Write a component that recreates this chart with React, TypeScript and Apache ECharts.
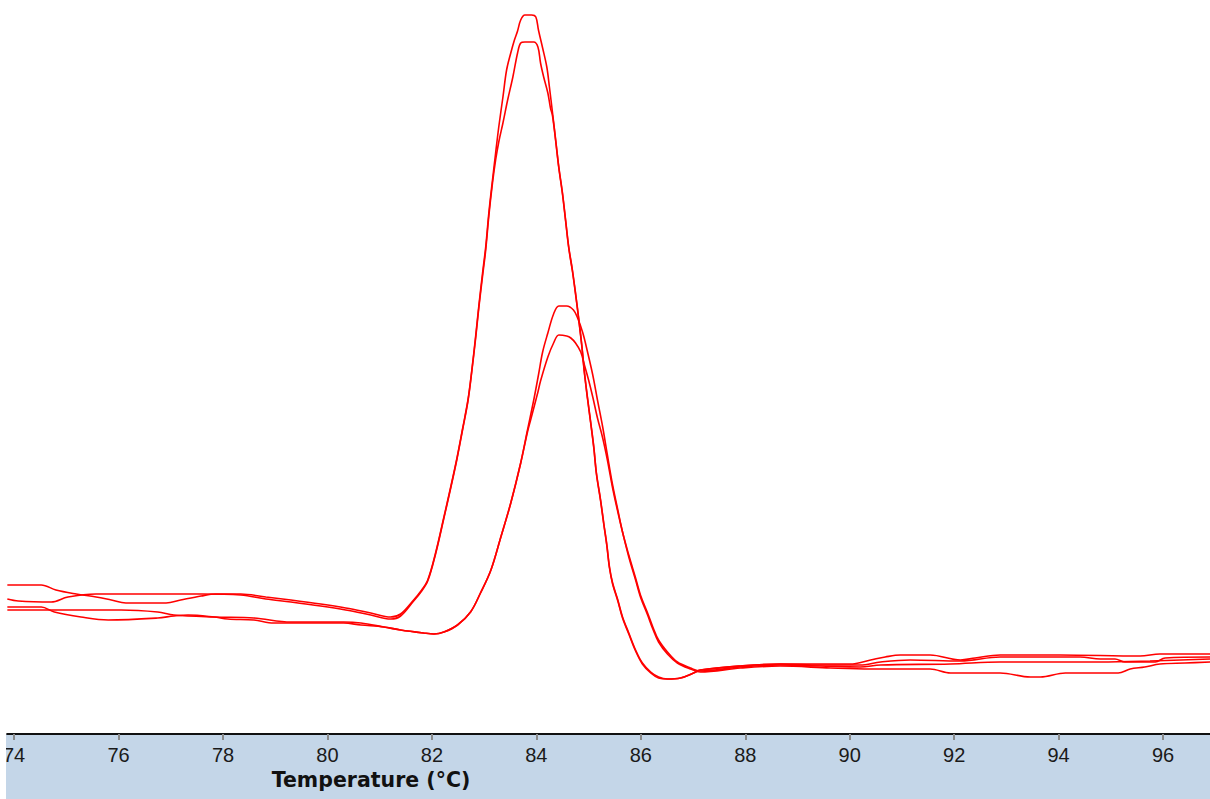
import React, { useEffect, useRef } from "react";
import * as echarts from "echarts";

// Melt-curve derivative data: [temperature °C, -dF/dT (arbitrary units)]
const sampleA: number[][] = [[73.87,1.49],[74.52,1.49],[74.80,1.44],[75.19,1.40],[75.57,1.37],[75.86,1.34],[76.14,1.31],[76.91,1.31],[77.19,1.34],[77.58,1.38],[77.86,1.40],[78.34,1.40],[78.82,1.37],[79.30,1.34],[79.87,1.30],[80.35,1.26],[80.83,1.21],[81.21,1.17],[81.40,1.20],[81.65,1.34],[81.79,1.43],[81.92,1.54],[82.07,1.81],[82.23,2.17],[82.36,2.47],[82.48,2.76],[82.59,3.06],[82.69,3.34],[82.76,3.62],[82.84,3.99],[82.90,4.29],[82.97,4.61],[83.03,4.87],[83.09,5.21],[83.16,5.54],[83.22,5.81],[83.28,6.07],[83.36,6.37],[83.43,6.64],[83.51,6.81],[83.58,6.94],[83.64,7.03],[83.70,7.14],[83.78,7.19],[83.91,7.19],[83.99,7.17],[84.04,7.04],[84.12,6.86],[84.20,6.67],[84.25,6.47],[84.31,6.21],[84.37,5.94],[84.43,5.67],[84.50,5.41],[84.56,5.14],[84.62,4.87],[84.69,4.64],[84.75,4.41],[84.81,4.16],[84.87,3.89],[84.92,3.62],[84.98,3.36],[85.04,3.12],[85.10,2.87],[85.15,2.61],[85.23,2.34],[85.29,2.11],[85.35,1.89],[85.40,1.67],[85.46,1.51],[85.56,1.34],[85.65,1.17],[85.77,1.01],[85.90,0.84],[86.03,0.71],[86.19,0.62],[86.34,0.57],[86.51,0.55],[86.76,0.56],[87.01,0.61],[87.14,0.64],[87.91,0.68],[88.67,0.70],[89.44,0.70],[90.01,0.70],[90.40,0.74],[90.68,0.77],[90.97,0.79],[91.54,0.79],[92.12,0.74],[92.40,0.76],[92.88,0.79],[94.03,0.79],[95.56,0.78],[95.94,0.80],[96.90,0.80]];

const sampleB: number[][] = [[73.87,1.35],[74.08,1.33],[74.71,1.32],[75.03,1.37],[75.57,1.40],[76.62,1.40],[77.58,1.40],[78.34,1.39],[78.82,1.35],[79.30,1.32],[79.87,1.28],[80.35,1.24],[80.83,1.19],[81.21,1.15],[81.40,1.18],[81.65,1.33],[81.79,1.42],[81.92,1.53],[82.07,1.80],[82.23,2.16],[82.36,2.46],[82.48,2.75],[82.59,3.05],[82.69,3.33],[82.76,3.61],[82.84,3.97],[82.90,4.27],[82.97,4.58],[83.03,4.84],[83.09,5.18],[83.16,5.51],[83.22,5.74],[83.28,5.92],[83.36,6.11],[83.45,6.34],[83.55,6.57],[83.64,6.81],[83.70,6.91],[83.78,6.92],[83.95,6.92],[84.03,6.87],[84.08,6.71],[84.14,6.57],[84.22,6.41],[84.27,6.26],[84.31,6.18],[84.37,5.93],[84.43,5.66],[84.50,5.40],[84.56,5.13],[84.62,4.86],[84.69,4.63],[84.75,4.40],[84.81,4.15],[84.87,3.88],[84.92,3.61],[84.98,3.35],[85.04,3.11],[85.10,2.86],[85.15,2.60],[85.23,2.33],[85.29,2.10],[85.35,1.88],[85.40,1.66],[85.46,1.50],[85.56,1.33],[85.65,1.16],[85.77,1.00],[85.90,0.83],[86.03,0.70],[86.19,0.61],[86.34,0.56],[86.51,0.55],[86.76,0.56],[87.01,0.61],[87.14,0.64],[87.91,0.68],[88.67,0.70],[89.44,0.69],[90.20,0.69],[90.59,0.72],[91.16,0.74],[92.12,0.73],[92.88,0.77],[94.41,0.77],[94.80,0.75],[95.08,0.75],[95.27,0.72],[95.85,0.72],[96.04,0.76],[96.90,0.77]];

const sampleC: number[][] = [[73.87,1.27],[74.52,1.27],[74.77,1.22],[75.28,1.17],[75.80,1.14],[76.75,1.16],[77.06,1.18],[77.33,1.19],[77.83,1.17],[78.09,1.15],[78.59,1.14],[78.97,1.11],[80.31,1.11],[80.64,1.09],[81.08,1.07],[81.40,1.04],[81.84,1.01],[82.04,1.00],[82.23,1.02],[82.49,1.09],[82.74,1.22],[82.93,1.41],[83.13,1.64],[83.32,1.97],[83.51,2.31],[83.70,2.71],[83.83,3.04],[83.95,3.34],[84.04,3.59],[84.12,3.82],[84.22,4.01],[84.33,4.20],[84.43,4.28],[84.58,4.28],[84.71,4.24],[84.79,4.16],[84.89,4.01],[84.98,3.82],[85.08,3.59],[85.17,3.34],[85.27,3.07],[85.36,2.79],[85.46,2.49],[85.56,2.24],[85.65,2.02],[85.77,1.79],[85.90,1.56],[86.00,1.38],[86.13,1.21],[86.23,1.07],[86.34,0.94],[86.51,0.82],[86.70,0.72],[86.95,0.66],[87.14,0.63],[87.91,0.67],[88.67,0.69],[89.44,0.68],[90.20,0.67],[90.59,0.69],[91.93,0.70],[92.88,0.72],[94.80,0.72],[95.75,0.73],[96.90,0.75]];

const sampleD: number[][] = [[73.87,1.24],[76.05,1.24],[76.75,1.22],[77.06,1.19],[77.83,1.17],[78.59,1.16],[79.30,1.12],[80.31,1.12],[80.64,1.11],[81.08,1.07],[81.40,1.04],[81.84,1.01],[82.04,1.00],[82.23,1.02],[82.49,1.09],[82.74,1.22],[82.93,1.41],[83.13,1.64],[83.32,1.97],[83.51,2.31],[83.70,2.71],[83.83,3.02],[83.89,3.14],[84.03,3.42],[84.08,3.53],[84.22,3.77],[84.33,3.91],[84.43,3.99],[84.58,3.98],[84.66,3.96],[84.75,3.91],[84.85,3.82],[84.92,3.69],[85.00,3.54],[85.08,3.37],[85.17,3.16],[85.27,2.96],[85.36,2.74],[85.46,2.46],[85.56,2.22],[85.65,2.02],[85.77,1.77],[85.90,1.54],[86.00,1.36],[86.13,1.19],[86.23,1.05],[86.34,0.92],[86.51,0.80],[86.70,0.71],[86.95,0.65],[87.14,0.62],[87.91,0.66],[88.67,0.68],[89.63,0.66],[90.40,0.65],[91.54,0.65],[91.93,0.61],[92.88,0.61],[93.46,0.57],[93.65,0.57],[94.13,0.61],[95.14,0.61],[95.37,0.65],[95.65,0.67],[95.94,0.70],[96.42,0.71],[96.90,0.72]];

const tempTicks: number[] = [74, 76, 78, 80, 82, 84, 86, 88, 90, 92, 94, 96];
const xTitle = "Temperature (°C)";
const seriesList = [sampleA, sampleB, sampleC, sampleD];

export default function App() {
  const ref = useRef<HTMLDivElement>(null);
  useEffect(() => {
    if (!ref.current) return;
    const chart = echarts.init(ref.current, undefined, { renderer: "svg" });
    chart.setOption({
      animation: false,
      backgroundColor: "#ffffff",
      grid: { left: 6, right: 0, top: 0, bottom: 65, containLabel: false },
      xAxis: {
        type: "value",
        min: 73.866,
        max: 96.899,
        axisLine: { show: true, onZero: false, lineStyle: { color: "#111", width: 2 } },
        axisTick: {
          show: true,
          customValues: tempTicks,
          length: 6,
          lineStyle: { color: "#8a8a8a", width: 2 },
        },
        axisLabel: {
          show: true,
          customValues: tempTicks,
          margin: 11,
          fontSize: 20,
          fontFamily: "Liberation Sans",
          color: "#1a1a1a",
          showMinLabel: true,
          showMaxLabel: true,
        },
        splitLine: { show: false },
      },
      yAxis: {
        type: "value",
        min: 0,
        max: 7.34,
        show: false,
        splitLine: { show: false },
      },
      series: seriesList.map((d, i) => ({
        type: "line",
        name: "Sample " + (i + 1),
        data: d,
        showSymbol: false,
        smooth: 0.35,
        lineStyle: { color: "#ff0000", width: 1.6 },
        z: 3,
      })),
      graphic: [
        {
          type: "rect",
          z: -10,
          shape: { x: 6, y: 734, width: 1204, height: 65 },
          style: { fill: "#c4d6e8" },
        },
        {
          type: "rect",
          z: 100,
          shape: { x: 0, y: 735, width: 6, height: 64 },
          style: { fill: "#ffffff" },
        },
        {
          type: "text",
          z: 100,
          x: 371,
          y: 780,
          style: {
            text: xTitle,
            fontFamily: "DejaVu Sans",
            fontWeight: "bold",
            fontSize: 20.5,
            fill: "#111",
            align: "center",
            verticalAlign: "middle",
          },
        },
      ],
    });
    return () => chart.dispose();
  }, []);
  return (
    <div
      ref={ref}
      style={{ position: "absolute", left: 0, top: 0, width: 1210, height: 799 }}
    />
  );
}
